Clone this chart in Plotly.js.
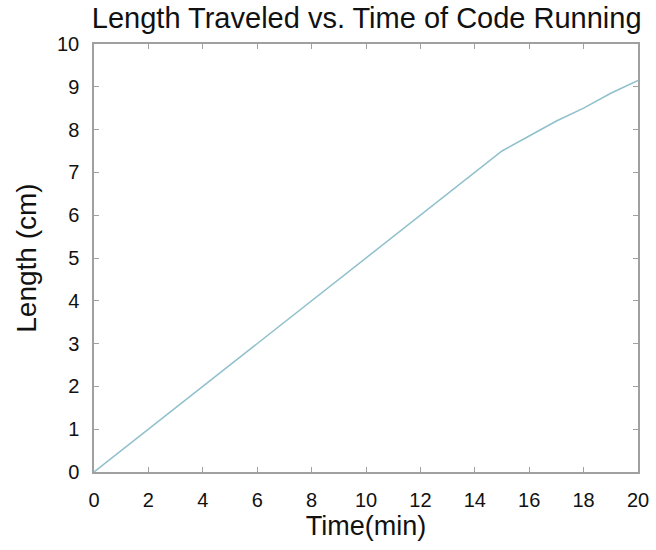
<!DOCTYPE html>
<html><head><meta charset="utf-8">
<script src="https://cdn.plot.ly/plotly-3.0.1.min.js"></script>
<style>body{margin:0;background:#fff}</style></head>
<body><div id="chart" style="width:656px;height:550px"></div>
<script>
const timeMin = [0,1,2,3,4,5,6,7,8,9,10,11,12,13,14,15,16,17,18,19,20];
const lengthCm = [0,0.5,1,1.5,2,2.5,3,3.5,4,4.5,5,5.5,6,6.5,7,7.5,7.85,8.2,8.5,8.85,9.15];
const xTicks = [0,2,4,6,8,10,12,14,16,18,20];
const yTicks = [0,1,2,3,4,5,6,7,8,9,10];
const ax = {showgrid:false, zeroline:false, showline:true, linecolor:'#a0a0a0', linewidth:1.5,
  mirror:'ticks', ticks:'inside', ticklen:5, tickcolor:'#a0a0a0', ticklabelstandoff:9,
  tickfont:{size:20, color:'#111', family:'Liberation Sans, Arial, sans-serif'}};
Plotly.newPlot('chart', [{x:timeMin, y:lengthCm, type:'scatter', mode:'lines',
  line:{color:'#8fc0cc', width:1.5}}], {
  width:656, height:550, showlegend:false,
  margin:{l:94, r:18, t:44, b:78},
  font:{family:'Liberation Sans, Arial, sans-serif', color:'#111'},
  title:{text:'Length Traveled vs. Time of Code Running', font:{size:29}, x:0.559, xanchor:'center', y:0.967, yanchor:'middle'},
  xaxis:Object.assign({}, ax, {range:[0,20], tickvals:xTicks, title:{text:'Time(min)', font:{size:27}, standoff:6}}),
  yaxis:Object.assign({}, ax, {range:[0,10], tickvals:yTicks, title:{text:'Length (cm)', font:{size:28}, standoff:12}}),
  plot_bgcolor:'#fff', paper_bgcolor:'#fff'
}, {displayModeBar:false});
</script></body></html>
